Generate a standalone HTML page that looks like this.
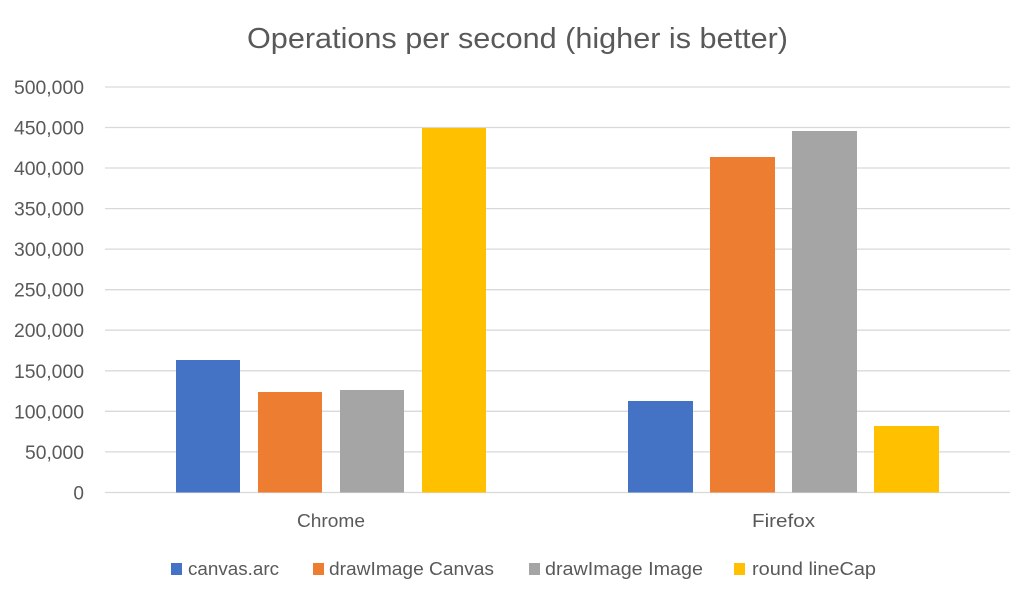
<!DOCTYPE html>
<html><head><meta charset="utf-8"><style>
html,body{margin:0;padding:0;background:#fff;}
svg{display:block;}
text{font-family:"Liberation Sans",sans-serif;fill:#595959;}
</style></head><body>
<svg width="1034" height="598" viewBox="0 0 1034 598" xmlns="http://www.w3.org/2000/svg">
<rect width="1034" height="598" fill="#fff"/>
<text x="247" y="48" font-size="29" textLength="541" lengthAdjust="spacingAndGlyphs">Operations per second (higher is better)</text>
<g stroke="#d9d9d9" stroke-width="1.3">
<line x1="105" x2="1010" y1="87" y2="87"/>
<line x1="105" x2="1010" y1="127.5" y2="127.5"/>
<line x1="105" x2="1010" y1="168" y2="168"/>
<line x1="105" x2="1010" y1="208.6" y2="208.6"/>
<line x1="105" x2="1010" y1="249.1" y2="249.1"/>
<line x1="105" x2="1010" y1="289.7" y2="289.7"/>
<line x1="105" x2="1010" y1="330.2" y2="330.2"/>
<line x1="105" x2="1010" y1="370.8" y2="370.8"/>
<line x1="105" x2="1010" y1="411.3" y2="411.3"/>
<line x1="105" x2="1010" y1="451.9" y2="451.9"/>
<line x1="105" x2="1010" y1="492.5" y2="492.5"/>
</g>
<g font-size="19" text-anchor="end">
<text x="84" y="94" textLength="70" lengthAdjust="spacingAndGlyphs">500,000</text>
<text x="84" y="134.5" textLength="70" lengthAdjust="spacingAndGlyphs">450,000</text>
<text x="84" y="175" textLength="70" lengthAdjust="spacingAndGlyphs">400,000</text>
<text x="84" y="215.6" textLength="70" lengthAdjust="spacingAndGlyphs">350,000</text>
<text x="84" y="256.1" textLength="70" lengthAdjust="spacingAndGlyphs">300,000</text>
<text x="84" y="296.7" textLength="70" lengthAdjust="spacingAndGlyphs">250,000</text>
<text x="84" y="337.2" textLength="70" lengthAdjust="spacingAndGlyphs">200,000</text>
<text x="84" y="377.8" textLength="70" lengthAdjust="spacingAndGlyphs">150,000</text>
<text x="84" y="418.3" textLength="70" lengthAdjust="spacingAndGlyphs">100,000</text>
<text x="84" y="458.9" textLength="59" lengthAdjust="spacingAndGlyphs">50,000</text>
<text x="84" y="499.5">0</text>
</g>
<rect x="176" y="360" width="64" height="132.5" fill="#4472C4"/>
<rect x="258" y="392" width="64" height="100.5" fill="#ED7D31"/>
<rect x="340" y="390" width="64" height="102.5" fill="#A5A5A5"/>
<rect x="422" y="128" width="64" height="364.5" fill="#FFC000"/>
<rect x="628" y="401" width="65" height="91.5" fill="#4472C4"/>
<rect x="710" y="157" width="65" height="335.5" fill="#ED7D31"/>
<rect x="792" y="131" width="65" height="361.5" fill="#A5A5A5"/>
<rect x="874" y="426" width="65" height="66.5" fill="#FFC000"/>
<text x="297" y="527" font-size="18" textLength="68" lengthAdjust="spacingAndGlyphs">Chrome</text>
<text x="752" y="527" font-size="18" textLength="63" lengthAdjust="spacingAndGlyphs">Firefox</text>
<rect x="171" y="563" width="11" height="12" fill="#4472C4"/>
<text x="188" y="575" font-size="18" textLength="91" lengthAdjust="spacingAndGlyphs">canvas.arc</text>
<rect x="313" y="563" width="11" height="12" fill="#ED7D31"/>
<text x="329" y="575" font-size="18" textLength="165" lengthAdjust="spacingAndGlyphs">drawImage Canvas</text>
<rect x="529" y="563" width="11" height="12" fill="#A5A5A5"/>
<text x="545" y="575" font-size="18" textLength="158" lengthAdjust="spacingAndGlyphs">drawImage Image</text>
<rect x="734" y="563" width="11" height="12" fill="#FFC000"/>
<text x="752" y="575" font-size="18" textLength="124" lengthAdjust="spacingAndGlyphs">round lineCap</text>
</svg>
</body></html>
